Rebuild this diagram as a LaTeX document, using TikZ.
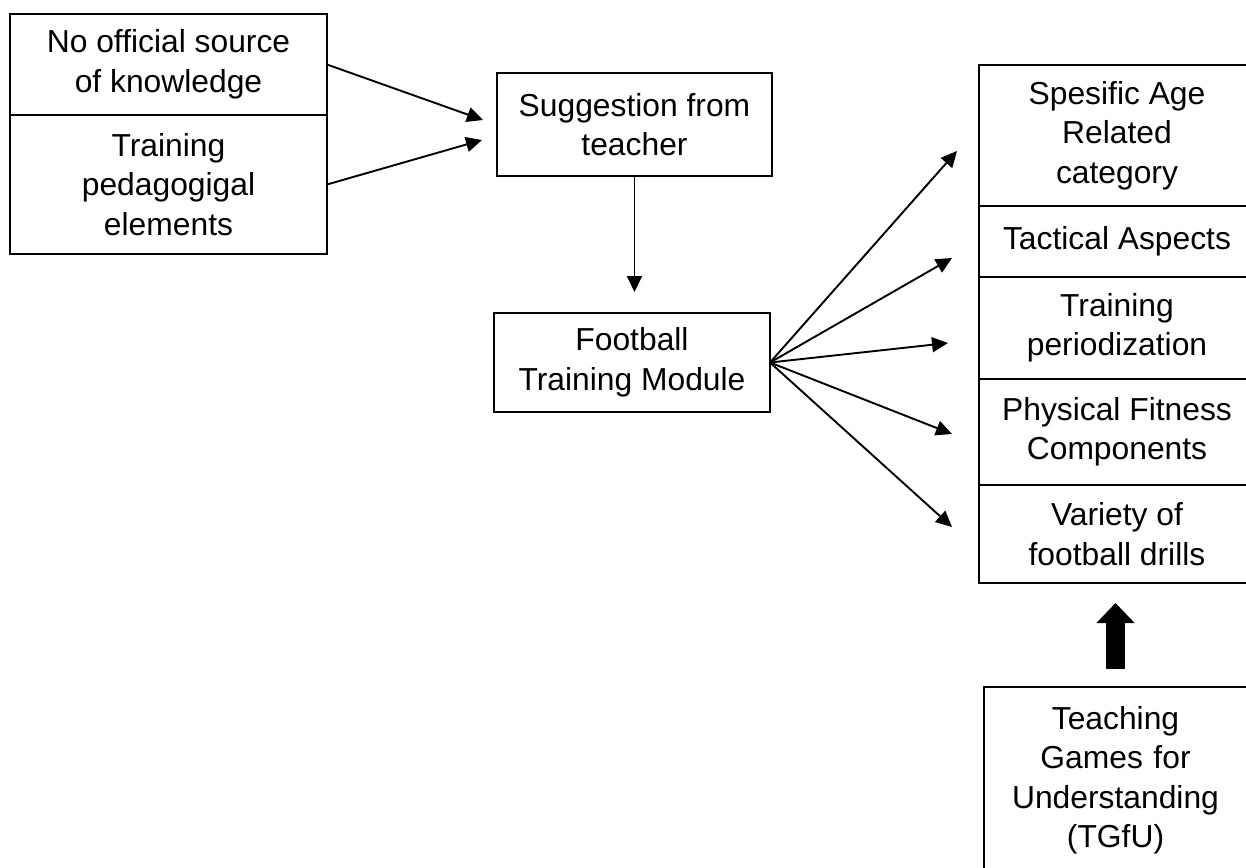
\documentclass[tikz,border=0pt]{standalone}
\usepackage{fontspec}
\setmainfont{Liberation Sans}
\usetikzlibrary{arrows.meta}
\begin{document}
\begin{tikzpicture}[x=1pt,y=-1pt,
  box/.style={draw, line width=2pt, anchor=north west, outer sep=0pt, inner sep=0pt, align=center, font=\fontsize{31.8}{39.5}\selectfont},
  arr/.style={line width=1.9pt, -{Triangle[length=16pt,width=15pt]}},
  bigarr/.style={line width=19pt, -{Triangle[length=20pt,width=37pt]}}]
\useasboundingbox (0,0) rectangle (1246,867);
\clip (0,0) rectangle (1246,867);
% left boxes
\node[box, minimum width=317pt, minimum height=101pt] (a1) at (10,14) {No official source\\of knowledge};
\node[box, minimum width=317pt, minimum height=139pt] (a2) at (10,115) {Training\\pedagogigal\\elements};
% middle boxes
\node[box, minimum width=275pt, minimum height=103pt] (sug) at (497,73) {Suggestion from\\teacher};
\node[box, minimum width=276pt, minimum height=99pt] (fb) at (494,313) {Football\\Training Module};
% right stack
\node[box, minimum width=276pt, minimum height=141pt] (s1) at (979,65) {Spesific Age\\Related\\category};
\node[box, minimum width=276pt, minimum height=71pt] (s2) at (979,206) {Tactical Aspects};
\node[box, minimum width=276pt, minimum height=102pt] (s3) at (979,277) {Training\\periodization};
\node[box, minimum width=276pt, minimum height=106pt] (s4) at (979,379) {Physical Fitness\\Components};
\node[box, minimum width=276pt, minimum height=98pt] (s5) at (979,485) {Variety of\\football drills};
% TGfU
\node[box, text width=263pt, inner ysep=19pt] (tg) at (984,687) {Teaching\\Games for\\Understanding\\(TGfU)};
% arrow end points
\coordinate (e1) at (483,120);
\coordinate (e2) at (482,140);
\coordinate (t1) at (957,151);
\coordinate (t2) at (952,258);
\coordinate (t3) at (948,343);
\coordinate (t4) at (952,434);
\coordinate (t5) at (952,527);
% connectors
\draw[arr] (a1.east) -- (e1);
\draw[arr] (a2.east) -- (e2);
\draw[arr, shorten >=21pt] (sug.south) -- (sug.south |- fb.north);
\draw[arr] (fb.east) -- (t1);
\draw[arr] (fb.east) -- (t2);
\draw[arr] (fb.east) -- (t3);
\draw[arr] (fb.east) -- (t4);
\draw[arr] (fb.east) -- (t5);
\draw[bigarr, shorten <=18pt, shorten >=20pt] (tg.north) -- (tg.north |- s5.south);
\end{tikzpicture}
\end{document}
